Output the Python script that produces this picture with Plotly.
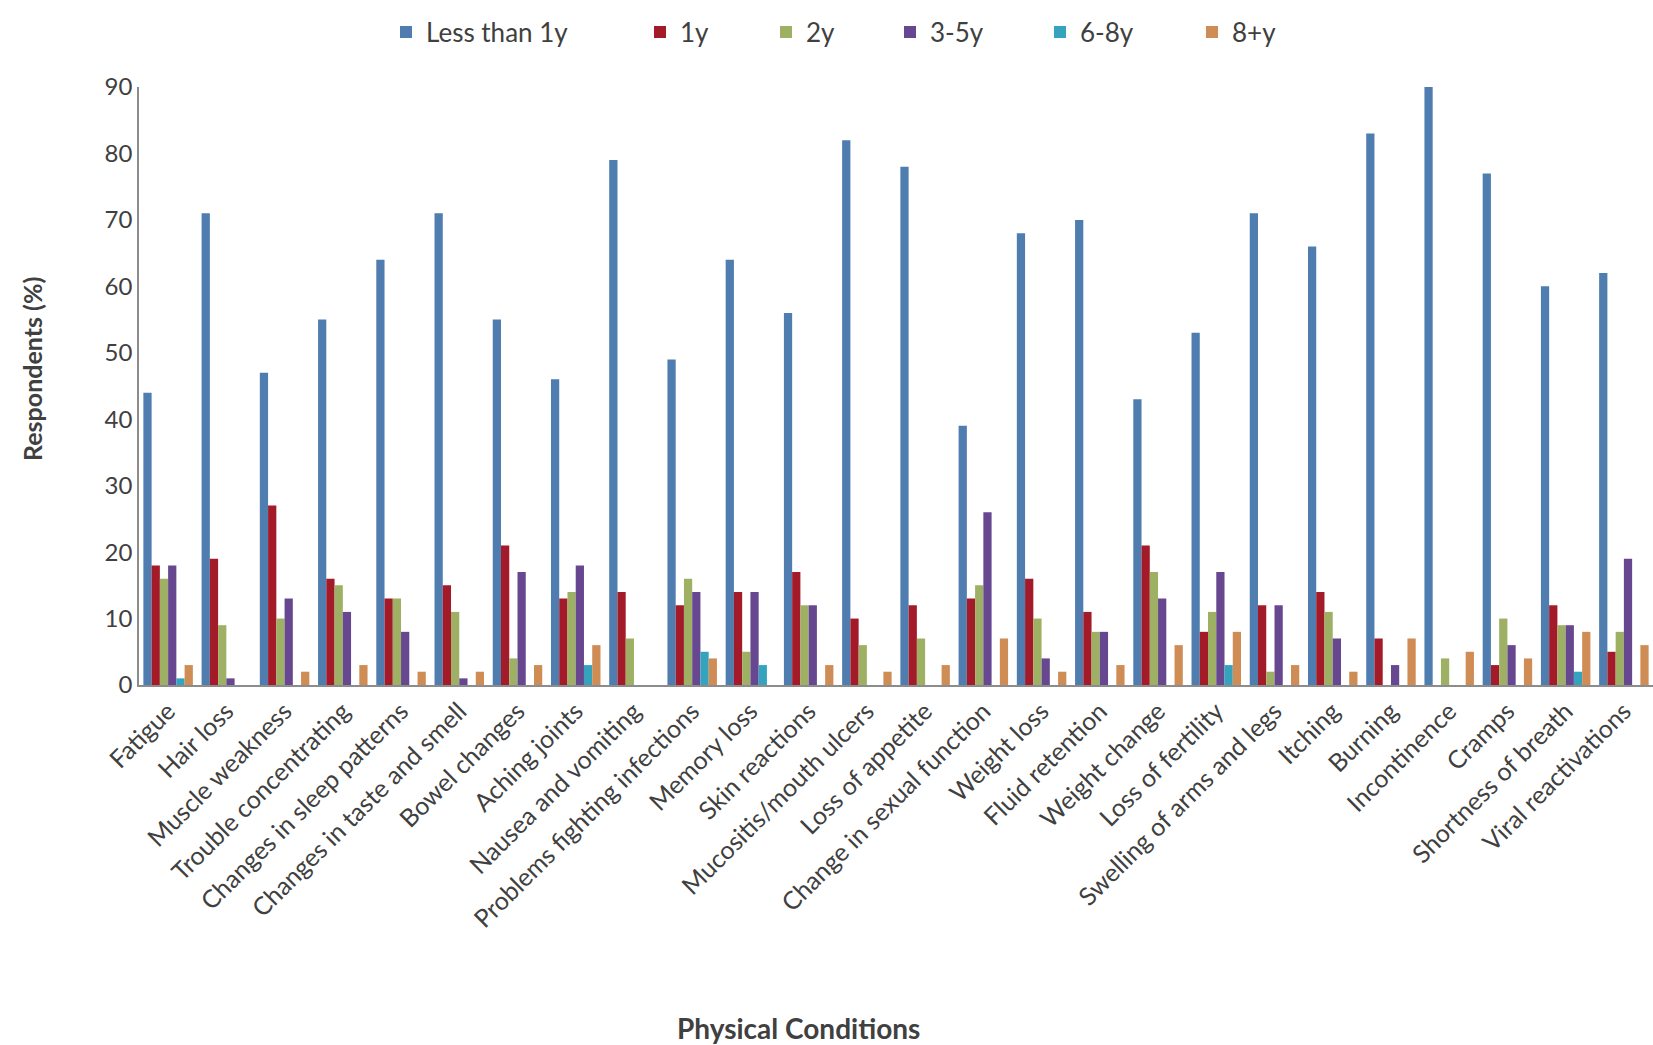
import plotly.graph_objects as go

# Physical conditions reported, grouped by time since treatment
conditions = [
    "Fatigue", "Hair loss", "Muscle weakness", "Trouble concentrating",
    "Changes in sleep patterns", "Changes in taste and smell", "Bowel changes",
    "Aching joints", "Nausea and vomiting", "Problems fighting infections",
    "Memory loss", "Skin reactions", "Mucositis/mouth ulcers", "Loss of appetite",
    "Change in sexual function", "Weight loss", "Fluid retention", "Weight change",
    "Loss of fertility", "Swelling of arms and legs", "Itching", "Burning",
    "Incontinence", "Cramps", "Shortness of breath", "Viral reactivations",
]

less_than_1y = [44, 71, 47, 55, 64, 71, 55, 46, 79, 49, 64, 56, 82, 78, 39, 68, 70, 43, 53, 71, 66, 83, 90, 77, 60, 62]
one_y = [18, 19, 27, 16, 13, 15, 21, 13, 14, 12, 14, 17, 10, 12, 13, 16, 11, 21, 8, 12, 14, 7, 0, 3, 12, 5]
two_y = [16, 9, 10, 15, 13, 11, 4, 14, 7, 16, 5, 12, 6, 7, 15, 10, 8, 17, 11, 2, 11, 0, 4, 10, 9, 8]
three_five_y = [18, 1, 13, 11, 8, 1, 17, 18, 0, 14, 14, 12, 0, 0, 26, 4, 8, 13, 17, 12, 7, 3, 0, 6, 9, 19]
six_eight_y = [1, 0, 0, 0, 0, 0, 0, 3, 0, 5, 3, 0, 0, 0, 0, 0, 0, 0, 3, 0, 0, 0, 0, 0, 2, 0]
eight_plus_y = [3, 0, 2, 3, 2, 2, 3, 6, 0, 4, 0, 3, 2, 3, 7, 2, 3, 6, 8, 3, 2, 7, 5, 4, 8, 6]

series_names = ["Less than 1y", "1y", "2y", "3-5y", "6-8y", "8+y"]
series_values = [less_than_1y, one_y, two_y, three_five_y, six_eight_y, eight_plus_y]
series_colors = ["#4F7DAF", "#A31B28", "#9EB063", "#674890", "#36A3BE", "#CF8C55"]

FONT = "Lato"
TEXT = "#404040"

W, H = 1653, 1045
L, R, T, B = 139, 0, 87, 360
plot_w = W - L - R
plot_h = H - T - B

# legend symbol centres (px) for each entry, one legend per series
legend_px = [406, 660, 786, 910, 1060, 1212]
legend_y = (H - B - 32) / plot_h

fig = go.Figure()
legend_layout = {}
for i, (name, vals, col) in enumerate(zip(series_names, series_values, series_colors)):
    key = "legend" if i == 0 else f"legend{i + 1}"
    fig.add_trace(go.Bar(
        x=conditions, y=vals, name=name,
        marker=dict(color=col, line=dict(width=0)),
        legend=key,
    ))
    legend_layout[key] = dict(
        x=(legend_px[i] - 20 - L) / plot_w, xanchor="left",
        y=legend_y, yanchor="middle",
        orientation="h", bgcolor="rgba(0,0,0,0)", borderwidth=0,
        font=dict(family=FONT, size=26, color=TEXT),
    )

fig.update_layout(
    width=W, height=H,
    margin=dict(l=L, r=R, t=T, b=B, pad=0),
    paper_bgcolor="white", plot_bgcolor="white",
    barmode="group", bargap=0.15, bargroupgap=0,
    font=dict(family=FONT, color=TEXT),
    showlegend=True,
    **legend_layout,
)

fig.update_xaxes(
    type="category", tickangle=-45,
    tickfont=dict(family=FONT, size=25, color=TEXT),
    showline=True, linecolor="#8c8c8c", linewidth=1.5,
    showgrid=False, ticks="", zeroline=False,
)
fig.update_yaxes(
    range=[0, 90], tickvals=list(range(0, 91, 10)),
    tickfont=dict(family=FONT, size=24, color=TEXT),
    showline=True, linecolor="#8c8c8c", linewidth=1.5,
    showgrid=False, ticks="", zeroline=False,
)

fig.add_annotation(
    text="<b>Respondents (%)</b>", textangle=-90,
    xref="paper", yref="paper", x=(32 - L) / plot_w, y=(H - B - 369) / plot_h,
    xanchor="center", yanchor="middle", showarrow=False,
    font=dict(family=FONT, size=25, color=TEXT),
)
fig.add_annotation(
    text="<b>Physical Conditions</b>",
    xref="paper", yref="paper", x=(798 - L) / plot_w, y=(H - B - 1028) / plot_h,
    xanchor="center", yanchor="middle", showarrow=False,
    font=dict(family=FONT, size=28, color=TEXT),
)

fig.write_html("out.html")
